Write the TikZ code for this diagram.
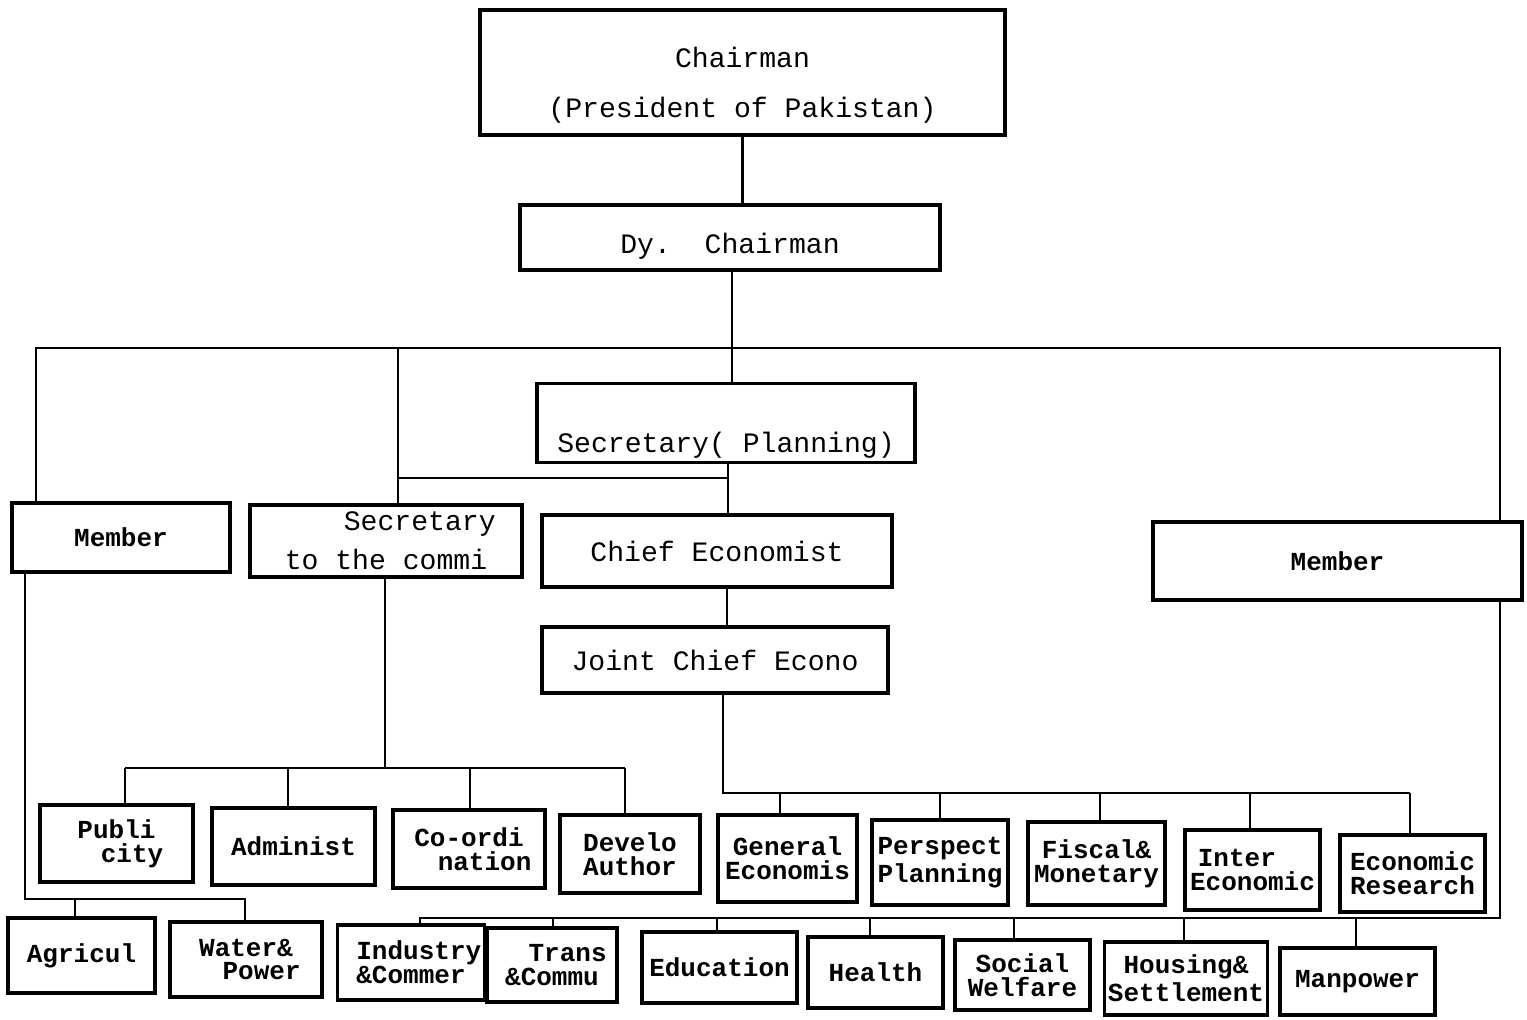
\documentclass[tikz,border=0pt]{standalone}
\usepackage{fontspec}
\setmonofont{Liberation Mono}
\usepackage{tikz}
\usetikzlibrary{positioning}

\tikzset{
  office/.style={draw, line width=0.9pt, rectangle, align=center, inner sep=1pt,
    font=\ttfamily\fontsize{8}{11}\selectfont},
  unit/.style={draw, line width=0.9pt, rectangle, align=center, inner sep=1pt,
    font=\ttfamily\bfseries\fontsize{7.4}{6.8}\selectfont},
  link/.style={line width=0.8pt},
}

\begin{document}
\begin{tikzpicture}
\useasboundingbox (0,0) rectangle (15.27,-10.20);
% top offices
\node[office, minimum width=5.25cm, minimum height=1.25cm] (chair) at (7.425,-0.725) {\rule{0pt}{13pt}Chairman\\[3pt](President of Pakistan)};
\node[office, minimum width=4.20cm, minimum height=0.65cm] (dy) at (7.30,-2.375) {\rule{0pt}{11pt}Dy.\ \ Chairman};
\node[office, minimum width=3.78cm, minimum height=0.70cm] (secp) at (7.26,-4.23) {\strut\\Secretary( Planning)};
\node[unit, minimum width=2.18cm, minimum height=0.69cm] (memL) at (1.21,-5.375) {Member};
\node[office, minimum width=2.72cm, minimum height=0.72cm] (secc) at (3.86,-5.41) {\ \ \ \ Secretary\\to the commi};
\node[office, minimum width=3.50cm, minimum height=0.72cm] (chief) at (7.17,-5.51) {Chief Economist};
\node[unit, minimum width=3.69cm, minimum height=0.78cm] (memR) at (13.375,-5.61) {Member};
\node[office, minimum width=3.46cm, minimum height=0.66cm] (joint) at (7.15,-6.60) {Joint Chief Econo};
% sections
\node[unit, minimum width=1.53cm, minimum height=0.77cm] (pub) at (1.165,-8.435) {Publi\\\ \ city};
\node[unit, minimum width=1.63cm, minimum height=0.77cm] (adm) at (2.935,-8.465) {Administ};
\node[unit, minimum width=1.52cm, minimum height=0.78cm] (coord) at (4.69,-8.49) {Co-ordi\\\ \ nation};
\node[unit, minimum width=1.40cm, minimum height=0.78cm] (dev) at (6.30,-8.54) {Develo\\Author};
\node[unit, minimum width=1.39cm, minimum height=0.87cm] (gen) at (7.875,-8.585) {General\\Economis};
\node[unit, minimum width=1.36cm, minimum height=0.85cm] (persp) at (9.40,-8.625) {Perspect\\Planning};
\node[unit, minimum width=1.37cm, minimum height=0.83cm] (fisc) at (10.965,-8.635) {Fiscal\&\\Monetary};
\node[unit, minimum width=1.35cm, minimum height=0.80cm] (inter) at (12.525,-8.70) {Inter\ \ \ \\Economic};
\node[unit, minimum width=1.45cm, minimum height=0.77cm] (ecres) at (14.125,-8.735) {Economic\\Research};
% members' divisions
\node[unit, minimum width=1.47cm, minimum height=0.75cm] (agr) at (0.815,-9.555) {Agricul};
\node[unit, minimum width=1.52cm, minimum height=0.75cm] (wat) at (2.46,-9.595) {Water\&\\\ \ Power};
\node[unit, minimum width=1.38cm, minimum height=0.75cm] (ind) at (4.11,-9.625) {\ Industry\\\&Commer};
\node[unit, minimum width=1.30cm, minimum height=0.74cm] (tra) at (5.52,-9.65) {\ \ Trans\\\&Commu};
\node[unit, minimum width=1.55cm, minimum height=0.71cm] (edu) at (7.195,-9.675) {Education};
\node[unit, minimum width=1.35cm, minimum height=0.71cm] (hea) at (8.755,-9.725) {Health};
\node[unit, minimum width=1.35cm, minimum height=0.70cm] (soc) at (10.225,-9.75) {Social\\Welfare};
\node[unit, minimum width=1.52cm, minimum height=0.73cm] (hou) at (11.86,-9.785) {Housing\&\\Settlement};
\node[unit, minimum width=1.55cm, minimum height=0.67cm] (man) at (13.575,-9.815) {Manpower};

% lines
\coordinate (spine) at (7.32,-3.48);
\coordinate (busL) at (0.36,-3.48);
\coordinate (busR) at (15.00,-3.48);
\coordinate (sc) at (3.98,-3.48);
\coordinate (sp) at (7.28,-4.78);
\draw[link] (chair.south) -- (chair.south |- dy.north);
\draw[link] (dy.south -| spine) -- (spine);
\draw[link] (memL.north -| busL) -- (busL) -- (busR) -- (memR.north -| busR);
\draw[link] (sc) -- (sc |- secc.north);
\draw[link] (spine) -- (spine |- secp.north);
\draw[link] (secp.south -| sp) -- (sp |- chief.north);
\draw[link] (sc |- sp) -- (sp);
\coordinate (cj) at (7.27,-6.00);
\draw[link] (chief.south -| cj) -- (cj |- joint.north);

% economic sections
\coordinate (eb) at (7.23,-7.93);
\coordinate (ebR) at (14.10,-7.93);
\draw[link] (joint.south -| eb) -- (eb) -- (ebR);
\foreach \n/\x in {gen/7.80, persp/9.40, fisc/11.00, inter/12.50, ecres/14.10}{
  \coordinate (t) at (\x,-7.93);
  \draw[link] (t) -- (t |- \n.north);
}
% commission sections
\coordinate (cb) at (3.85,-7.68);
\coordinate (cbL) at (1.25,-7.68);
\coordinate (cbR) at (6.25,-7.68);
\draw[link] (secc.south -| cb) -- (cb);
\draw[link] (cbL) -- (cbR);
\foreach \n/\x in {pub/1.25, adm/2.88, coord/4.70, dev/6.25}{
  \coordinate (t) at (\x,-7.68);
  \draw[link] (t) -- (t |- \n.north);
}
% left member
\coordinate (lm) at (0.25,-8.99);
\coordinate (lmA) at (0.75,-8.99);
\coordinate (lmR) at (2.45,-8.99);
\draw[link] (memL.south -| lm) -- (lm) -- (lmR) -- (lmR |- wat.north);
\draw[link] (lmA) -- (lmA |- agr.north);
% right member
\coordinate (rm) at (15.00,-9.18);
\coordinate (rmL) at (4.20,-9.18);
\draw[link] (memR.south -| rm) -- (rm) -- (rmL) -- (rmL |- ind.north);
\foreach \n/\x in {tra/5.53, edu/7.17, hea/8.70, soc/10.14, hou/11.84, man/13.56}{
  \coordinate (t) at (\x,-9.18);
  \draw[link] (t) -- (t |- \n.north);
}
\end{tikzpicture}
\end{document}
